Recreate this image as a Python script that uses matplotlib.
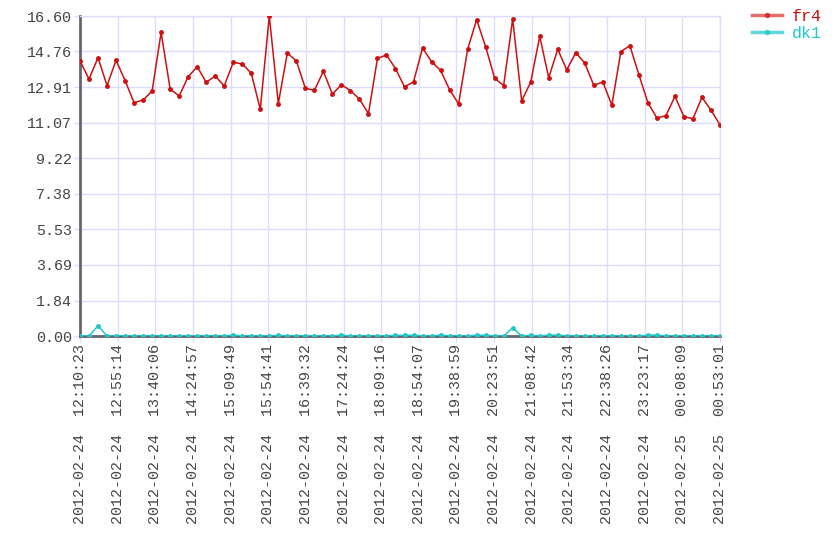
import numpy as np
import matplotlib
matplotlib.use("Agg")
import matplotlib.pyplot as plt
from matplotlib.lines import Line2D

# ---- Data ----
fr4 = [14.27, 13.33, 14.44, 12.99, 14.30, 13.25, 12.10, 12.24, 12.71, 15.75,
       12.81, 12.45, 13.45, 13.97, 13.16, 13.49, 12.97, 14.20, 14.11, 13.63,
       11.76, 16.60, 12.06, 14.68, 14.27, 12.85, 12.74, 13.73, 12.55, 13.04,
       12.73, 12.29, 11.53, 14.40, 14.58, 13.87, 12.93, 13.18, 14.94, 14.23,
       13.78, 12.78, 12.04, 14.87, 16.41, 15.01, 13.37, 12.99, 16.44, 12.20,
       13.17, 15.54, 13.40, 14.87, 13.81, 14.70, 14.15, 13.00, 13.18, 11.97,
       14.75, 15.06, 13.56, 12.10, 11.31, 11.43, 12.43, 11.38, 11.27, 12.38,
       11.72, 10.95]

dk1 = [0.0, 0.0, 0.53, 0.0, 0.0, 0.0, 0.0, 0.0, 0.0, 0.0,
       0.0, 0.0, 0.0, 0.0, 0.0, 0.0, 0.0, 0.05, 0.0, 0.0,
       0.0, 0.0, 0.04, 0.0, 0.0, 0.0, 0.0, 0.0, 0.0, 0.05,
       0.0, 0.0, 0.0, 0.0, 0.0, 0.03, 0.04, 0.04, 0.0, 0.0,
       0.05, 0.0, 0.0, 0.0, 0.04, 0.04, 0.0, 0.0, 0.42, 0.0,
       0.04, 0.0, 0.04, 0.05, 0.0, 0.0, 0.0, 0.0, 0.0, 0.0,
       0.0, 0.0, 0.0, 0.04, 0.05, 0.0, 0.0, 0.0, 0.0, 0.0,
       0.0, 0.0]

x_labels = [
    "2012-02-24  12:10:23", "2012-02-24  12:55:14", "2012-02-24  13:40:06",
    "2012-02-24  14:24:57", "2012-02-24  15:09:49", "2012-02-24  15:54:41",
    "2012-02-24  16:39:32", "2012-02-24  17:24:24", "2012-02-24  18:09:16",
    "2012-02-24  18:54:07", "2012-02-24  19:38:59", "2012-02-24  20:23:51",
    "2012-02-24  21:08:42", "2012-02-24  21:53:34", "2012-02-24  22:38:26",
    "2012-02-24  23:23:17", "2012-02-25  00:08:09", "2012-02-25  00:53:01",
]
y_ticks = [0.00, 1.84, 3.69, 5.53, 7.38, 9.22, 11.07, 12.91, 14.76, 16.60]

FR4_COLOR = "#cc1111"
DK1_COLOR = "#22c8c8"
GRID_COLOR = "#dcdcfc"
AXIS_COLOR = "#66666e"
TEXT_COLOR = "#444444"

plt.rcParams["font.family"] = ["Liberation Mono", "DejaVu Sans Mono"]

fig = plt.figure(figsize=(8.4, 5.6), dpi=100)
ax = fig.add_axes([80 / 840, 1 - 336 / 560, 640 / 840, 320 / 560])

x = np.arange(len(fr4))
ax.plot(x, fr4, color=FR4_COLOR, linewidth=1.1, marker="o", markersize=2.5, zorder=3)
ax.plot(x, dk1, color=DK1_COLOR, linewidth=1.1, marker="o", markersize=2.5, zorder=3)

ax.set_xlim(0, len(fr4) - 1)
ax.set_ylim(0, 16.60)

ax.set_xticks(np.linspace(0, len(fr4) - 1, len(x_labels)))
ax.set_xticklabels(x_labels, rotation=90, fontsize=10.8)
ax.set_yticks(y_ticks)
ax.set_yticklabels([f"{v:.2f}" for v in y_ticks], fontsize=10.8)
ax.tick_params(axis="both", colors=GRID_COLOR, length=4, width=1, pad=2)
ax.tick_params(axis="both", labelcolor=TEXT_COLOR)

ax.grid(True, color=GRID_COLOR, linewidth=1)
ax.set_axisbelow(True)

for side in ["top", "right"]:
    ax.spines[side].set_color(GRID_COLOR)
    ax.spines[side].set_linewidth(1)
for side in ["left", "bottom"]:
    ax.spines[side].set_color(AXIS_COLOR)
    ax.spines[side].set_linewidth(2)
    ax.spines[side].set_zorder(2)

# legend outside the plot on the right
handles = [
    Line2D([0], [0], color=FR4_COLOR, alpha=0.6, linewidth=2.5, marker="o",
           markersize=3, markerfacecolor=FR4_COLOR, markeredgecolor=FR4_COLOR),
    Line2D([0], [0], color=DK1_COLOR, alpha=0.7, linewidth=2.5, marker="o",
           markersize=3, markerfacecolor=DK1_COLOR, markeredgecolor=DK1_COLOR),
]
leg = fig.legend(handles, ["fr4", "dk1"], loc="upper left",
                 bbox_to_anchor=(745 / 840, 1 - 2 / 560), frameon=False,
                 fontsize=12, handlelength=1.8, handletextpad=0.6,
                 labelspacing=0.15, borderaxespad=0)
for txt, c in zip(leg.get_texts(), [FR4_COLOR, DK1_COLOR]):
    txt.set_color(c)

fig.savefig("out.png", dpi=100)
